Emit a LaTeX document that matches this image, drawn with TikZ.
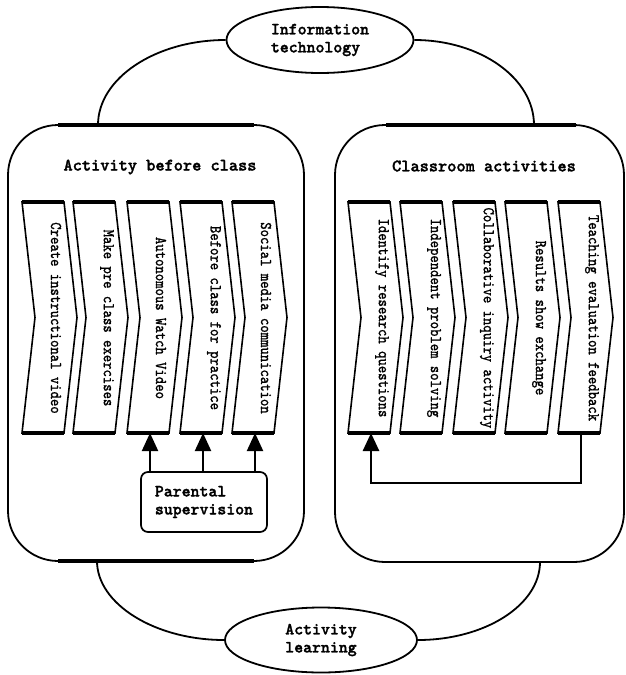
\documentclass[tikz,border=0pt]{standalone}
\usepackage{fontspec}
\newfontfamily\lmbold[FakeBold=1.6]{lmmonolt10-bold.otf}
\newfontfamily\lmchev[FakeStretch=0.85,FakeBold=1.2]{lmmono10-regular.otf}
\usetikzlibrary{shapes.geometric,arrows.meta,calc}
\newcommand\chevshape[3]{%
  \draw[chevline] (#1,202) -- ++(42,0) -- ++(13,115.5) -- ++(-13,115.5) -- ++(-42,0) -- ++(13,-115.5) -- cycle;
  \draw[chevedge] (#1,202) -- ++(42,0);
  \draw[chevedge] (#1,433) -- ++(42,0);
  \node[chevtext] (#2) at (#1+34,318) {#3};
  \coordinate (#2b) at (#1+23,433);
}
\begin{document}
\begin{tikzpicture}[x=1pt,y=-1pt,
  bigbox/.style={draw,line width=1.8pt,rounded corners=50pt,inner sep=0pt},
  thickseg/.style={line width=3.8pt},
  arcline/.style={line width=1.8pt},
  oval/.style={ellipse,draw,line width=1.8pt,inner sep=0pt,align=left,
     font=\lmbold\fontsize{17}{18}\selectfont},
  titletext/.style={font=\lmbold\fontsize{17.5}{18}\selectfont,inner sep=0pt},
  chevline/.style={line width=1.6pt,line join=miter},
  chevedge/.style={line width=3.2pt},
  chevtext/.style={rotate=-90,inner sep=0pt,font=\lmchev\fontsize{16.5}{16}\selectfont},
  psbox/.style={draw,line width=1.7pt,rounded corners=7pt,align=left,inner sep=0pt,
     font=\lmbold\fontsize{17}{18}\selectfont},
  arr/.style={line width=2pt,-{Triangle[length=18pt,width=16pt]}},
]
\useasboundingbox (0,0) rectangle (626,675);

% ovals
\node[oval,minimum width=187pt,minimum height=66pt] (it) at (320,40) {Information\\technology\phantom{x}};
\node[oval,minimum width=192pt,minimum height=65pt] (al) at (321,640) {Activity\\learning};

% big boxes
\node[bigbox,minimum width=296pt,minimum height=436pt] (pre) at (156,343) {};
\node[bigbox,minimum width=289pt,minimum height=437pt] (cls) at (479.5,343.5) {};
\draw[thickseg] (58,125) -- (254,125);
\draw[thickseg] (58,561) -- (254,561);
\draw[thickseg] (386,125) -- (576,125);

% titles
\node[titletext] (pret) at (160,167) {Activity before class};
\node[titletext] (clst) at (484,166) {Classroom activities};

% connecting arcs
\coordinate (ptl) at (98,125);
\coordinate (ptr) at (534,125);
\coordinate (pbl) at (97,561);
\coordinate (pbr) at (540,562);
\draw[arcline] (it.west) .. controls (156,40) and (98,78) .. (ptl);
\draw[arcline] (it.east) .. controls (480,40) and (534,78) .. (ptr);
\draw[arcline] (pbl) .. controls (97,604) and (155,640) .. (al.west);
\draw[arcline] (pbr) .. controls (540,605) and (485,640) .. (al.east);

% left chevrons
\chevshape{22}{L1}{Create instructional video}
\chevshape{73}{L2}{Make pre class exercises}
\chevshape{127}{L3}{Autonomous Watch Video}
\chevshape{180}{L4}{Before class for practice}
\chevshape{232}{L5}{Social media communication}

% right chevrons
\chevshape{348}{R1}{Identify research questions}
\chevshape{400}{R2}{Independent problem solving}
\chevshape{453}{R3}{Collaborative inquiry activity}
\chevshape{505}{R4}{Results show exchange}
\chevshape{558}{R5}{Teaching evaluation feedback}

% parental supervision
\node[psbox,minimum width=126pt,minimum height=60pt] (ps) at (204,502) {Parental\\supervision};
\draw[arr] (ps.north -| L3b) -- (L3b);
\draw[arr] (ps.north -| L4b) -- (L4b);
\draw[arr] (ps.north -| L5b) -- (L5b);

% feedback loop
\draw[arr,line width=2.6pt] (R5b) -- ++(0,50) -| (R1b);
\end{tikzpicture}
\end{document}
